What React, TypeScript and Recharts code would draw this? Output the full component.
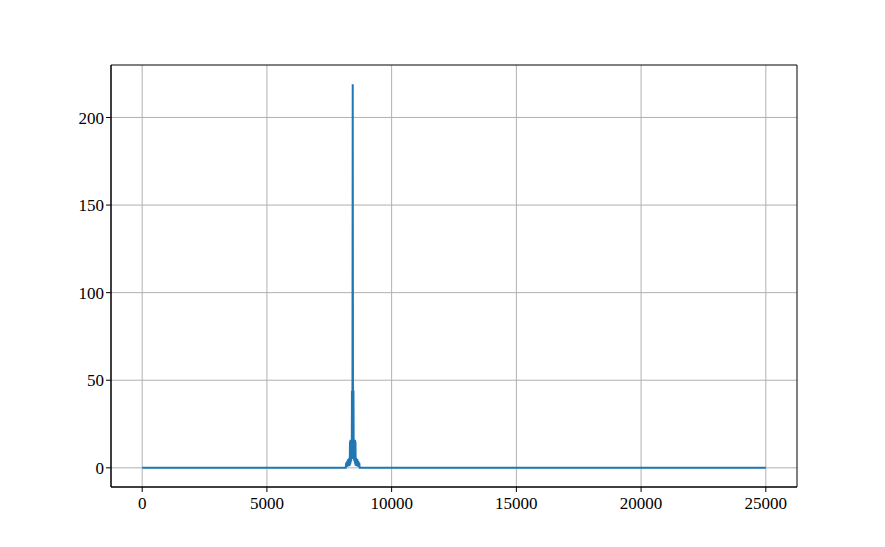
import { LineChart, Line, XAxis, YAxis, CartesianGrid, ReferenceArea } from 'recharts';

// spectrum magnitude: flat zero floor with a narrow peak near 8440
const freqs = [
  0, 8160, 8180, 8200, 8220, 8240, 8260, 8280, 8300, 8320, 8330, 8340, 8350, 8360, 8370, 8380, 8390,
  8400, 8410, 8420, 8430, 8440, 8450, 8460, 8470, 8480, 8490, 8500, 8510, 8520, 8530, 8540, 8550,
  8560, 8580, 8600, 8620, 8640, 8660, 8680, 8700, 8720, 25000,
];
const magnitudes = [
  0, 0, 3, 0.5, 4, 0.8, 5, 1, 5.5, 1.2, 15, 2, 16, 3, 16, 4, 15,
  5, 44, 8, 43, 219, 43, 8, 44, 5, 15, 4, 16, 3, 16, 2, 15,
  1.2, 5.5, 1, 5, 0.8, 4, 0.5, 3, 0, 0,
];
const xTicks = [0, 5000, 10000, 15000, 20000, 25000];
const yTicks = [0, 50, 100, 150, 200];

const xDomain: [number, number] = [-1250, 26250];
const yDomain: [number, number] = [-10.95, 229.95];

const data = freqs.map((f, i) => ({ f, mag: magnitudes[i] }));

const tickStyle = { fontFamily: '"Liberation Serif", serif', fontSize: 17, fill: '#000' };

export default function App() {
  return (
    <div style={{ position: 'absolute', left: 0, top: 0, background: '#fff' }}>
      <LineChart width={885} height={547} data={data} margin={{ top: 65, right: 88, bottom: 0, left: 51 }}>
        <CartesianGrid stroke="#b0b0b0" strokeWidth={1} horizontalValues={yTicks} verticalValues={xTicks} />
        <XAxis
          dataKey="f"
          type="number"
          domain={xDomain}
          ticks={xTicks}
          height={60}
          tickSize={5}
          axisLine={{ stroke: '#000' }}
          tickLine={{ stroke: '#000' }}
          tick={{ ...tickStyle, dy: 3 }}
          allowDataOverflow
        />
        <YAxis
          type="number"
          domain={yDomain}
          ticks={yTicks}
          width={60}
          tickSize={5}
          axisLine={{ stroke: '#000' }}
          tickLine={{ stroke: '#000' }}
          tick={tickStyle}
          allowDataOverflow
        />
        <ReferenceArea x1={xDomain[0]} x2={xDomain[1]} y1={yDomain[0]} y2={yDomain[1]} fill="none" stroke="#000" strokeWidth={1} />
        <Line
          dataKey="mag"
          type="linear"
          stroke="#1f77b4"
          strokeWidth={2}
          dot={false}
          isAnimationActive={false}
        />
      </LineChart>
    </div>
  );
}
